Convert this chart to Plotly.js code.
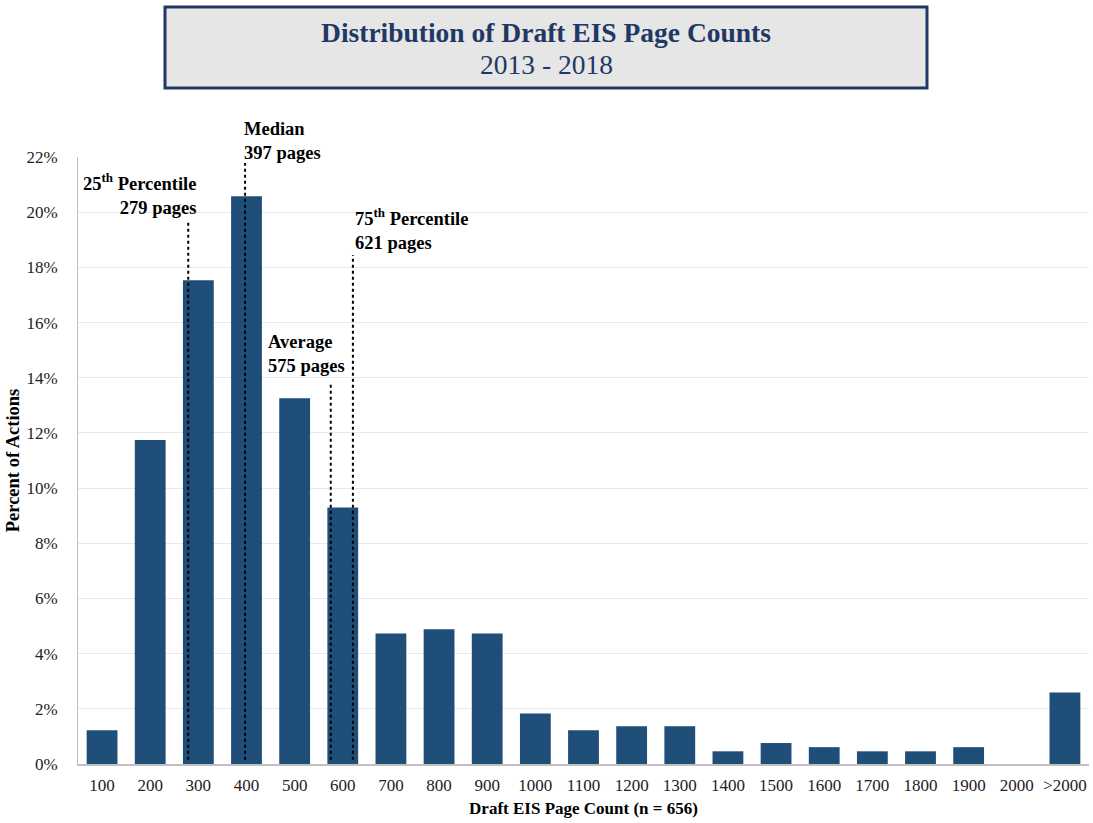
<!DOCTYPE html>
<html>
<head>
<meta charset="utf-8">
<script src="https://cdn.plot.ly/plotly-3.0.1.min.js"></script>
<style>html,body{margin:0;padding:0;background:#fff;}#chart{width:1093px;height:823px;}</style>
</head>
<body>
<div id="chart"></div>
<script>
const categories = ["100","200","300","400","500","600","700","800","900","1000","1100","1200","1300","1400","1500","1600","1700","1800","1900","2000",">2000"];
const percentValues = [1.22,11.74,17.53,20.58,13.26,9.30,4.73,4.88,4.73,1.83,1.22,1.37,1.37,0.46,0.76,0.61,0.46,0.46,0.61,0,2.59];
const markerLabels = ["25<sup>th</sup> Percentile<br>279 pages","Median<br>397 pages","Average<br>575 pages","75<sup>th</sup> Percentile<br>621 pages"];
const markerPages = [279,397,575,621];
const markerTops = [19.72,21.78,13.85,18.45];
const yTicks = [0,2,4,6,8,10,12,14,16,18,20,22];

const navy = "#1f3864";
const barColor = "#1f4e79";
const serif = "Liberation Serif";

// plot area in pixels (for placing the free text boxes)
const L = 78, R = 4, T = 157, B = 59, W = 1093, H = 823;
const pw = W - L - R, ph = H - T - B;
const px = x => (x - L) / pw;
const py = y => (H - B - y) / ph;

// map a page count onto the category axis (index 0 = 100 pages, 100 pages per category)
const pageToX = p => (p - 100) / 100;

const shapes = [];
markerPages.forEach((p, i) => {
  shapes.push({type:"line", xref:"x", yref:"y", x0:pageToX(p), x1:pageToX(p), y0:0.15, y1:markerTops[i],
    line:{color:"#000", width:2, dash:"dot"}, layer:"above"});
});
// title box
shapes.push({type:"rect", xref:"paper", yref:"paper", x0:px(165), x1:px(927), y0:py(88), y1:py(7),
  fillcolor:"#e6e6e6", line:{color:navy, width:3}, layer:"below"});

const annFont = {family:serif, size:18.5, color:"#000"};
const annotations = [
  {text:markerLabels[0], x:px(198), y:py(194), xanchor:"right", align:"right"},
  {text:markerLabels[1], x:px(242), y:py(141), xanchor:"left", align:"left"},
  {text:markerLabels[2], x:px(266), y:py(353.5), xanchor:"left", align:"left"},
  {text:markerLabels[3], x:px(353), y:py(229.5), xanchor:"left", align:"left"}
].map(a => Object.assign({xref:"paper", yref:"paper", yanchor:"middle", showarrow:false, font:annFont}, a));
annotations.forEach(a => { a.text = "<b>" + a.text.replace(/<br>/g, "</b><br><b>") + "</b>"; });

annotations.push({xref:"paper", yref:"paper", x:px(546), y:py(65), xanchor:"center", yanchor:"middle", showarrow:false,
  text:"2013 - 2018", font:{family:serif, size:27.5, color:navy}});

const data = [{
  type:"bar",
  x:categories,
  y:percentValues,
  marker:{color:barColor, line:{width:0}},
  hoverinfo:"x+y"
}];

const layout = {
  width:W, height:H,
  margin:{l:L, r:R, t:T, b:B},
  paper_bgcolor:"#fff", plot_bgcolor:"#fff",
  bargap:0.36,
  font:{family:serif, color:"#222"},
  showlegend:false,
  title:{text:"<b>Distribution of Draft EIS Page Counts</b>", x:546/W, xref:"container", y:1-32/H, yref:"container", yanchor:"middle", xanchor:"center",
    font:{family:serif, size:27.5, color:navy}},
  xaxis:{type:"category", tickfont:{family:serif, size:17, color:"#222"}, showgrid:false, showline:true, linecolor:"#bfbfbf", linewidth:2,
    ticks:"", ticklabelstandoff:5,
    title:{text:"<b>Draft EIS Page Count (n = 656)</b>", font:{family:serif, size:17, color:"#000"}, standoff:8}},
  yaxis:{range:[0,22], tickvals:yTicks, ticktext:yTicks.map(v => v + "%"), tickfont:{family:serif, size:17, color:"#222"},
    showgrid:true, gridcolor:"#e9e9e9", gridwidth:1, showline:true, linecolor:"#bfbfbf", linewidth:1, zeroline:false,
    ticks:"", ticklabelstandoff:16,
    title:{text:"<b>Percent of Actions</b>", font:{family:serif, size:18.5, color:"#000"}, standoff:1}},
  shapes:shapes,
  annotations:annotations
};

Plotly.newPlot("chart", data, layout, {displayModeBar:false, staticPlot:true});
</script>
</body>
</html>
